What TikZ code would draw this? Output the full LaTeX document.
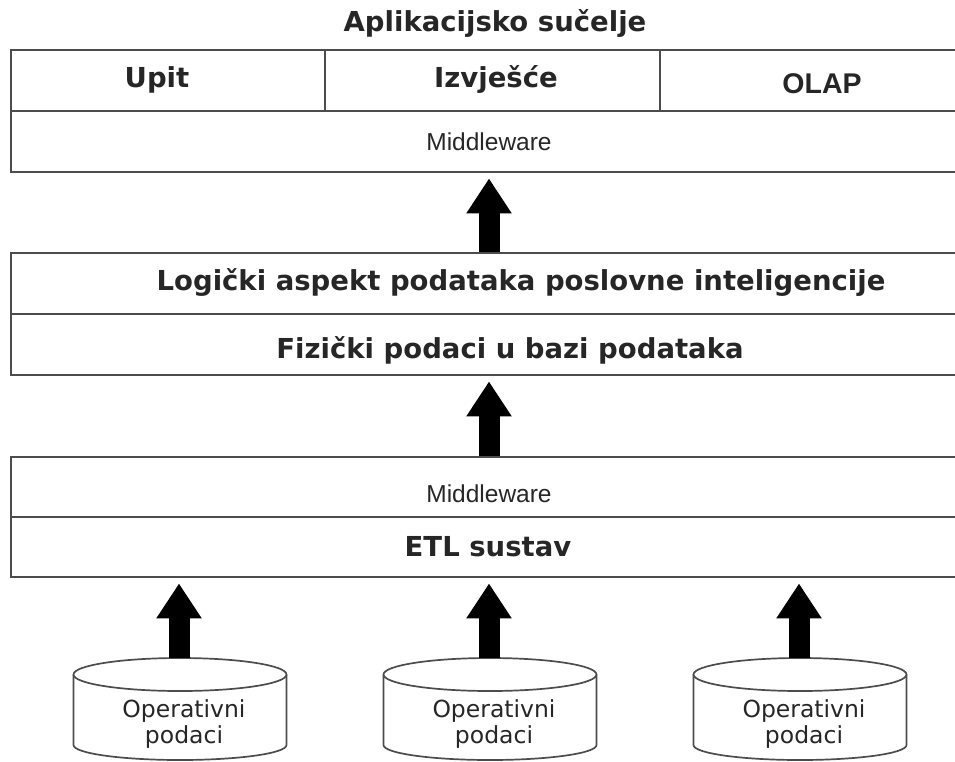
\documentclass[tikz,border=0pt]{standalone}
\usepackage{fontspec}
\usepackage{tikz}
\usetikzlibrary{arrows.meta}
\newfontfamily\dvs{DejaVu Sans}
\newfontfamily\lib{Liberation Sans}

\begin{document}
\begin{tikzpicture}[x=1pt,y=1pt,
    layer/.style={draw=black!70, line width=1.8pt, minimum width=947pt, inner sep=0pt},
    rule/.style={draw=black!70, line width=1.8pt},
    cyl/.style={draw=black!70, line width=1.7pt},
    boldlabel/.style={font=\dvs\bfseries\fontsize{27.5}{30}\selectfont, text=black!85, anchor=base, inner sep=0pt},
    mwlabel/.style={font=\lib\fontsize{24.5}{28}\selectfont, text=black!85, anchor=base, inner sep=0pt},
    oplabel/.style={font=\dvs\fontsize{23.5}{26}\selectfont, text=black!85, align=center, inner sep=0pt},
    bigarrow/.style={line width=21pt, -{Triangle[width=43pt,length=35pt]}, shorten >=5.5pt}]
    \useasboundingbox (0,0) rectangle (955,-761);
    \clip (0,0) rectangle (955,-761);
    \node[boldlabel] (title) at (495,-31) {Aplikacijsko sučelje};
    \node[layer, minimum height=122pt] (apps) at (484.5,-111) {};
    \draw[rule] (apps.west) -- (apps.east);
    \draw[rule] (325,-50) -- (325,-111);
    \draw[rule] (660,-50) -- (660,-111);
    \node[boldlabel] (upit) at (157,-87) {Upit};
    \node[boldlabel] (izvj) at (496,-87) {Izvješće};
    \node[boldlabel, font=\lib\bfseries\fontsize{28.5}{30}\selectfont] (olap) at (822,-93) {OLAP};
    \node[mwlabel] (mw1) at (489,-150) {Middleware};
    \node[layer, minimum height=122pt] (logic) at (484.5,-314) {};
    \draw[rule] (logic.west) -- (logic.east);
    \node[boldlabel] (logicki) at (521,-290) {Logički aspekt podataka poslovne inteligencije};
    \node[boldlabel] (fizicki) at (510,-358) {Fizički podaci u bazi podataka};
    \node[layer, minimum height=120pt] (etl) at (484.5,-517) {};
    \draw[rule] (etl.west) -- (etl.east);
    \node[mwlabel] (mw2) at (489,-502) {Middleware};
    \node[boldlabel] (etltxt) at (488,-556) {ETL sustav};
    \draw[cyl] (73.5,-674.5) -- (73.5,-745) arc[start angle=180, end angle=360, x radius=106.5, y radius=15] -- (286.5,-674.5);
    \draw[cyl] (180,-674.5) ellipse [x radius=106.5, y radius=16.5];
    \draw[cyl] (383.5,-674.5) -- (383.5,-745) arc[start angle=180, end angle=360, x radius=106.5, y radius=15] -- (596.5,-674.5);
    \draw[cyl] (490,-674.5) ellipse [x radius=106.5, y radius=16.5];
    \draw[cyl] (693.5,-674.5) -- (693.5,-745) arc[start angle=180, end angle=360, x radius=106.5, y radius=15] -- (906.5,-674.5);
    \draw[cyl] (800,-674.5) ellipse [x radius=106.5, y radius=16.5];
    \node[oplabel] (op1) at (184,-724) {Operativni\\podaci};
    \node[oplabel] (op2) at (494,-724) {Operativni\\podaci};
    \node[oplabel] (op3) at (804,-724) {Operativni\\podaci};
    \coordinate (db1) at (179,-658);
    \coordinate (db2) at (489,-658);
    \coordinate (db3) at (799,-658);
    \draw[bigarrow] (db1) -- (db1 |- etl.south);
    \draw[bigarrow] (db2) -- (db2 |- etl.south);
    \draw[bigarrow] (db3) -- (db3 |- etl.south);
    \draw[bigarrow] (etl.north -| db2) -- (logic.south -| db2);
    \draw[bigarrow] (logic.north -| db2) -- (apps.south -| db2);
\end{tikzpicture}
\end{document}
